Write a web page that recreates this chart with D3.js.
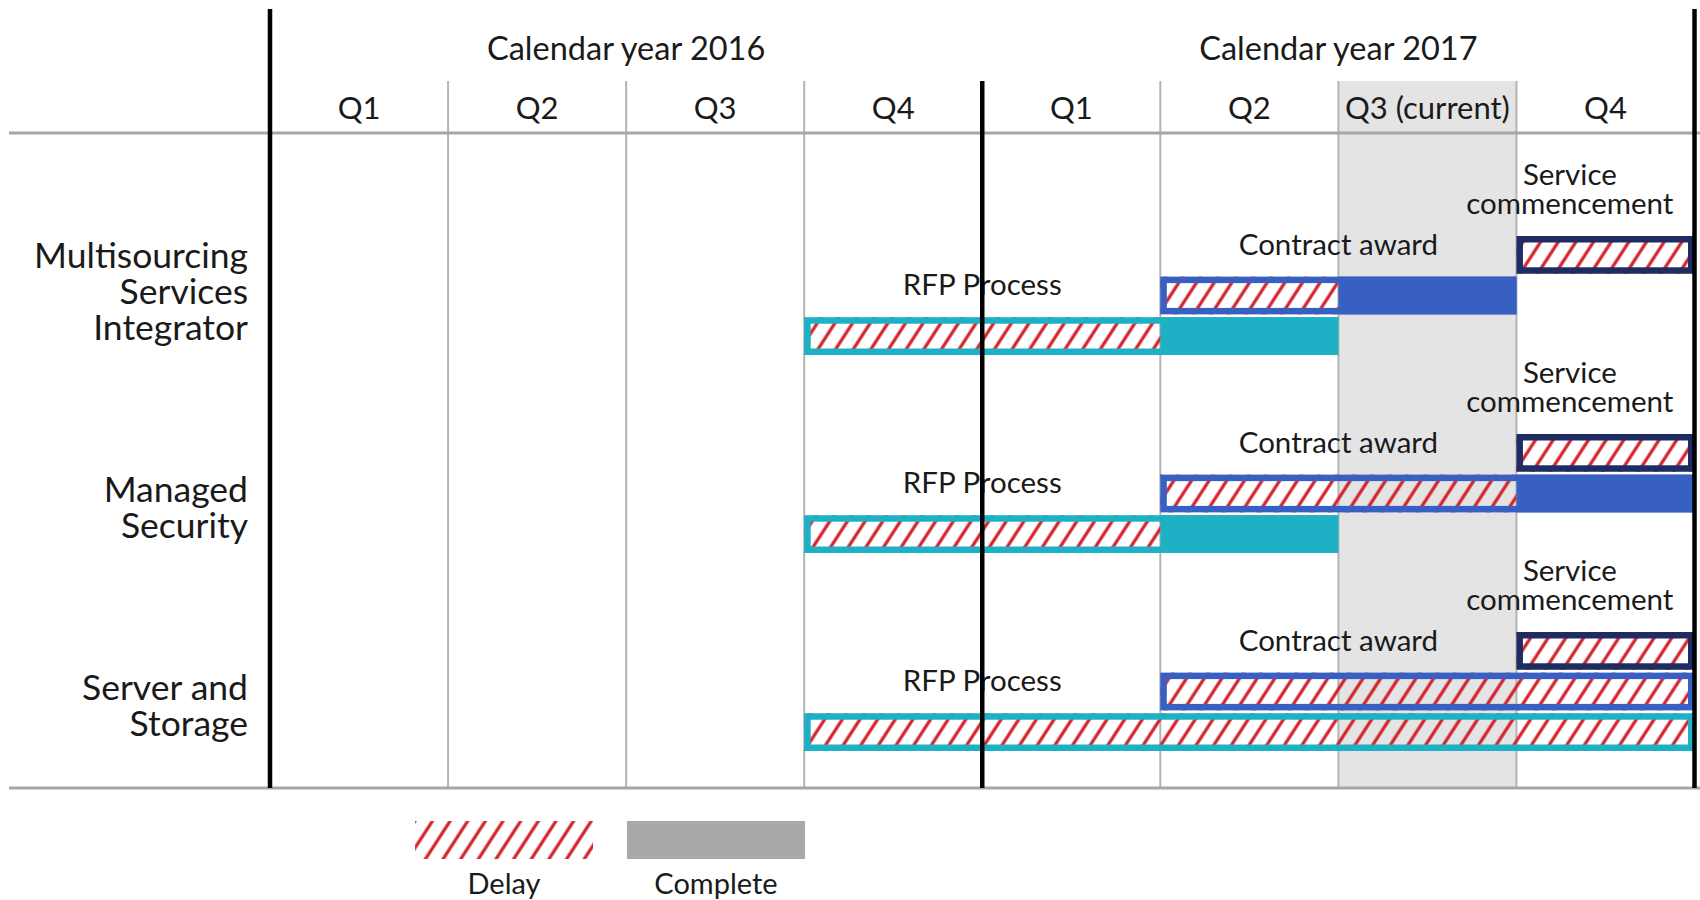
<!DOCTYPE html>
<html>
<head>
<meta charset="utf-8">
<script src="https://cdn.jsdelivr.net/npm/d3@7"></script>
<style>
  body { margin: 0; background: #fff; }
  svg { display: block; font-family: Lato, "Open Sans", sans-serif; }
</style>
</head>
<body>
<div id="chart"></div>
<script>
// header labels
const years = ["Calendar year 2016", "Calendar year 2017"];
const quarters = ["Q1", "Q2", "Q3", "Q4", "Q1", "Q2", "Q3 (current)", "Q4"];
const currentQuarter = 6;

// rows
const categories = ["Multisourcing Services Integrator", "Managed Security", "Server and Storage"];
const categoryLines = [["Multisourcing", "Services", "Integrator"], ["Managed", "Security"], ["Server and", "Storage"]];
const tasks = ["Service commencement", "Contract award", "RFP Process"];
const taskLines = [["Service", "commencement"], ["Contract award"], ["RFP Process"]];
const taskColors = ["#1f2b63", "#3760c2", "#1eb0c4"];

// quarter index (0 = Q1 2016) where each bar starts, where its delay part ends and where it ends
const barStart = [[7, 5, 3], [7, 5, 3], [7, 5, 3]];
const delayEnd = [[8, 6, 5], [8, 7, 5], [8, 8, 8]];
const barEnd = [[8, 7, 6], [8, 8, 6], [8, 8, 8]];

const legendItems = ["Delay", "Complete"];

const W = 1700, H = 900;
const svg = d3.select("#chart").append("svg").attr("width", W).attr("height", H);

const x = d3.scaleLinear().domain([0, 8]).range([270, 1694.5]);
const yCat = d3.scaleBand().domain(categories).range([236, 830]);
const yRow = d3.scaleBand().domain(tasks).range([0, 119]).paddingInner(0.07);

const gridTop = 81, headTop = 9, headLine = 133, bottom = 788;

const defs = svg.append("defs");
const pat = defs.append("pattern")
    .attr("id", "hatch")
    .attr("patternUnits", "userSpaceOnUse")
    .attr("width", 14.8).attr("height", 14.8)
    .attr("patternTransform", "rotate(33)");
pat.append("line")
    .attr("x1", 3).attr("x2", 3).attr("y1", 0).attr("y2", 14.8)
    .attr("stroke", "#d32029").attr("stroke-width", 3.2);

// current quarter band
svg.append("rect")
    .attr("x", x(currentQuarter)).attr("y", gridTop)
    .attr("width", x(currentQuarter + 1) - x(currentQuarter))
    .attr("height", bottom - gridTop)
    .attr("fill", "#e4e4e4");

// thin quarter lines
svg.append("g").selectAll("line")
    .data(d3.range(1, 8).filter(d => d !== 4))
    .join("line")
    .attr("x1", d => x(d)).attr("x2", d => x(d))
    .attr("y1", gridTop).attr("y2", bottom)
    .attr("stroke", "#b4b4b4").attr("stroke-width", 2);

// horizontal rules
svg.append("g").selectAll("line")
    .data([headLine, bottom])
    .join("line")
    .attr("x1", 9).attr("x2", W)
    .attr("y1", d => d).attr("y2", d => d)
    .attr("stroke", "#a6a6a6").attr("stroke-width", 3);

// header text
svg.append("g").selectAll("text")
    .data(years)
    .join("text")
    .attr("x", (d, i) => x(i * 4 + 2))
    .attr("y", 60)
    .attr("text-anchor", "middle")
    .attr("font-size", 32.5)
    .attr("fill", "#1a1a1a")
    .text(d => d);

svg.append("g").selectAll("text")
    .data(quarters)
    .join("text")
    .attr("x", (d, i) => x(i + 0.5))
    .attr("y", 119)
    .attr("text-anchor", "middle")
    .attr("font-size", 31)
    .attr("fill", "#1a1a1a")
    .text(d => d);

// category labels, anchored on the last line
categories.forEach((c, ci) => {
    const lines = categoryLines[ci];
    const last = yCat(c) + 104;
    svg.append("text")
        .attr("text-anchor", "end")
        .attr("font-size", 35.5)
        .attr("fill", "#1a1a1a")
        .selectAll("tspan")
        .data(lines)
        .join("tspan")
        .attr("x", 248)
        .attr("y", (d, i) => last - (lines.length - 1 - i) * 36)
        .text(d => d);
});

// bars
const bars = svg.append("g");
categories.forEach((c, ci) => {
    tasks.forEach((t, ti) => {
        const y0 = yCat(c) + yRow(t);
        const h = yRow.bandwidth();
        const s = barStart[ci][ti], de = delayEnd[ci][ti], e = barEnd[ci][ti];
        const col = taskColors[ti];
        const bw = 6.5;
        if (e > de) {
            bars.append("rect")
                .attr("x", x(de)).attr("y", y0)
                .attr("width", x(e) - x(de)).attr("height", h)
                .attr("fill", col);
        }
        bars.append("rect")
            .attr("x", x(s)).attr("y", y0)
            .attr("width", x(de) - x(s)).attr("height", h)
            .attr("fill", "url(#hatch)");
        bars.append("rect")
            .attr("x", x(s) + bw / 2).attr("y", y0 + bw / 2)
            .attr("width", x(e) - x(s) - bw).attr("height", h - bw)
            .attr("fill", "none")
            .attr("stroke", col).attr("stroke-width", bw);

        // label above the bar
        const lines = taskLines[ti];
        const lbl = bars.append("text")
            .attr("font-size", 29.5)
            .attr("fill", "#1a1a1a")
            .attr("text-anchor", "middle");
        lbl.selectAll("tspan")
            .data(lines)
            .join("tspan")
            .attr("x", ti === 0 ? x(s + 0.3) : x(s + 1))
            .attr("y", (d, i) => y0 - 22 - (lines.length - 1 - i) * 29)
            .text(d => d);
    });
});

// thick year lines on top
svg.append("g").selectAll("line")
    .data([0, 4, 8])
    .join("line")
    .attr("x1", d => x(d)).attr("x2", d => x(d))
    .attr("y1", d => d === 4 ? gridTop : headTop)
    .attr("y2", bottom)
    .attr("stroke", "#000").attr("stroke-width", 4.5);

// legend
const lx = d3.scaleBand().domain(legendItems).range([415, 805]).paddingInner(0.16);
const leg = svg.append("g").selectAll("g")
    .data(legendItems)
    .join("g")
    .attr("transform", d => `translate(${lx(d)},0)`);
leg.append("rect")
    .attr("y", 821).attr("width", lx.bandwidth()).attr("height", 38)
    .attr("fill", d => d === "Delay" ? "url(#hatch)" : "#a9a9a9");
leg.append("text")
    .attr("x", lx.bandwidth() / 2).attr("y", 894)
    .attr("text-anchor", "middle")
    .attr("font-size", 29)
    .attr("fill", "#1a1a1a")
    .text(d => d);
</script>
</body>
</html>
